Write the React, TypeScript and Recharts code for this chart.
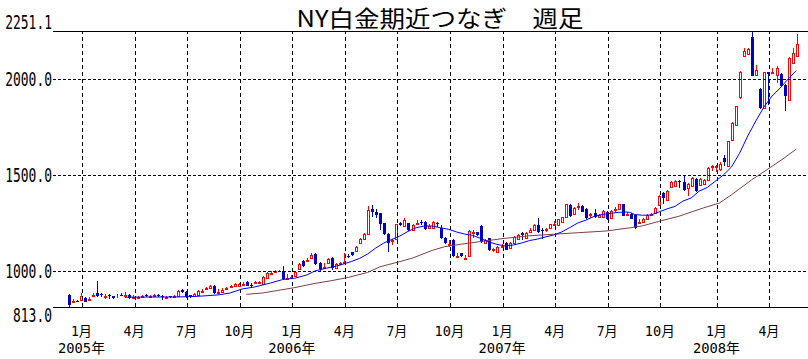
import React from 'react';
import { ComposedChart, Bar, Line, XAxis, YAxis, ReferenceLine } from 'recharts';

// Weekly OHLC (NY platinum, continuous front month), one entry per week
const OPEN = [
  876, 838, 845, 849, 860, 850, 872, 888, 880, 866, 874, 868, 868, 878, 870, 876, 860, 862, 866, 878,
  866, 870, 876, 870, 862, 868, 866, 872, 900, 893, 874, 872, 876, 890, 905, 910, 924, 888, 893, 905,
  915, 922, 922, 930, 944, 930, 936, 940, 931, 966, 985, 996, 998, 1001, 960, 965, 976, 1011, 1053, 1055,
  1067, 1088, 1044, 1015, 1041, 1070, 1018, 1037, 1044, 1080, 1098, 1105, 1145, 1166, 1192, 1324, 1308, 1301, 1249, 1192,
  1158, 1167, 1249, 1237, 1249, 1214, 1248, 1258, 1254, 1226, 1226, 1250, 1226, 1171, 1136, 1162, 1072, 1093, 1063, 1079,
  1200, 1202, 1235, 1148, 1171, 1110, 1101, 1124, 1148, 1122, 1145, 1166, 1197, 1171, 1205, 1214, 1240, 1215, 1212, 1223,
  1242, 1240, 1257, 1280, 1344, 1296, 1335, 1341, 1324, 1290, 1301, 1283, 1283, 1310, 1275, 1316, 1324, 1348, 1294, 1298,
  1291, 1251, 1254, 1273, 1291, 1302, 1346, 1407, 1372, 1437, 1442, 1470, 1464, 1433, 1442, 1481, 1447, 1454, 1476, 1540,
  1540, 1530, 1590, 1549, 1685, 1763, 1905, 2120, 2130, 2218, 2020, 1950, 1850, 2036, 2030, 2022, 2025, 1970, 1893, 2086,
  2122,
];
const HIGH = [
  881, 853, 849, 884, 865, 867, 884, 948, 884, 879, 879, 870, 879, 884, 890, 879, 874, 872, 876, 882,
  878, 882, 880, 873, 872, 872, 878, 902, 905, 896, 878, 884, 902, 905, 919, 926, 926, 906, 910, 919,
  928, 936, 938, 942, 948, 936, 948, 950, 975, 994, 1000, 1006, 1008, 1027, 983, 978, 1000, 1040, 1058, 1067,
  1093, 1092, 1048, 1041, 1070, 1073, 1041, 1049, 1096, 1088, 1102, 1132, 1170, 1196, 1339, 1344, 1322, 1305, 1253, 1196,
  1167, 1248, 1255, 1275, 1252, 1244, 1266, 1266, 1262, 1244, 1262, 1255, 1240, 1176, 1162, 1165, 1093, 1096, 1084, 1213,
  1214, 1205, 1240, 1166, 1175, 1122, 1132, 1140, 1153, 1150, 1184, 1192, 1205, 1204, 1226, 1244, 1275, 1223, 1226, 1248,
  1262, 1274, 1284, 1352, 1348, 1332, 1353, 1346, 1328, 1301, 1324, 1296, 1318, 1314, 1318, 1336, 1352, 1352, 1308, 1302,
  1296, 1273, 1277, 1295, 1303, 1333, 1397, 1412, 1423, 1467, 1476, 1476, 1502, 1458, 1490, 1485, 1485, 1480, 1542, 1551,
  1554, 1567, 1606, 1680, 1776, 1862, 2045, 2162, 2165, 2251.1, 2072, 1955, 2040, 2040, 2058, 2068, 2030, 1975, 2115, 2160,
  2235,
];
const LOW = [
  813, 836, 837, 846, 838, 848, 870, 867, 867, 855, 855, 857, 862, 868, 862, 856, 856, 860, 862, 866,
  862, 866, 864, 849, 855, 860, 862, 868, 885, 862, 860, 868, 872, 886, 902, 906, 880, 884, 890, 900,
  912, 918, 918, 926, 920, 918, 932, 935, 928, 962, 980, 990, 994, 955, 954, 962, 972, 1008, 1022, 1050,
  1062, 1032, 997, 1012, 1037, 1006, 1015, 1032, 1040, 1067, 1078, 1100, 1140, 1162, 1188, 1283, 1275, 1214, 1188, 1098,
  1136, 1162, 1235, 1233, 1210, 1210, 1244, 1240, 1214, 1223, 1222, 1230, 1166, 1140, 1127, 1075, 1068, 1074, 1058, 1075,
  1171, 1184, 1148, 1142, 1105, 1098, 1098, 1119, 1108, 1118, 1140, 1162, 1162, 1166, 1197, 1210, 1200, 1167, 1205, 1219,
  1236, 1236, 1254, 1276, 1283, 1292, 1318, 1306, 1271, 1275, 1275, 1275, 1280, 1266, 1271, 1310, 1320, 1285, 1290, 1270,
  1220, 1247, 1250, 1270, 1288, 1298, 1342, 1350, 1368, 1433, 1438, 1433, 1420, 1390, 1438, 1414, 1442, 1450, 1472, 1523,
  1516, 1523, 1546, 1545, 1680, 1758, 1898, 2115, 2125, 2015, 2018, 1845, 1845, 1865, 2025, 1978, 1960, 1836, 1888, 2080,
  2118,
];
const CLOSE = [
  825, 842, 840, 872, 841, 856, 876, 870, 876, 870, 869, 860, 872, 873, 875, 858, 865, 866, 872, 874,
  872, 876, 868, 864, 866, 864, 870, 898, 893, 866, 864, 880, 898, 896, 910, 922, 884, 893, 903, 910,
  920, 933, 934, 935, 924, 926, 942, 944, 971, 989, 990, 1000, 1003, 959, 965, 970, 997, 1035, 1027, 1060,
  1084, 1035, 1011, 1020, 1062, 1015, 1037, 1043, 1050, 1072, 1082, 1127, 1166, 1192, 1318, 1310, 1291, 1244, 1192, 1145,
  1163, 1244, 1240, 1266, 1214, 1240, 1252, 1252, 1219, 1236, 1257, 1243, 1170, 1145, 1142, 1079, 1078, 1077, 1068, 1209,
  1205, 1188, 1153, 1160, 1110, 1115, 1127, 1129, 1112, 1145, 1179, 1188, 1188, 1200, 1212, 1240, 1205, 1208, 1218, 1244,
  1248, 1270, 1280, 1348, 1287, 1327, 1341, 1310, 1275, 1296, 1280, 1290, 1313, 1270, 1313, 1322, 1348, 1289, 1300, 1273,
  1223, 1257, 1273, 1291, 1297, 1329, 1393, 1381, 1419, 1463, 1471, 1462, 1424, 1454, 1485, 1419, 1481, 1476, 1537, 1546,
  1546, 1560, 1566, 1676, 1772, 1858, 2038, 2145, 2155, 2018, 2050, 1850, 2035, 2025, 2040, 2060, 1963, 1910, 2110, 2135,
  2183,
];

// Moving averages (week index -> value)
const MA_SHORT_WEEK = [
  14, 20, 26, 30, 33, 37, 40, 43, 46, 50, 53, 56, 59, 61, 64, 67, 70, 72, 74, 76,
  78, 80, 82, 84, 86, 88, 90, 92, 94, 96, 98, 100, 102, 104, 106, 108, 110, 112, 114, 116,
  118, 120, 122, 124, 126, 128, 130, 132, 134, 136, 138, 139, 140, 142, 144, 146, 148, 150, 152, 154,
  156, 158, 160, 162, 164, 166, 168, 170, 172, 174, 176, 178, 180,
];
const MA_SHORT_VALUE = [
  864, 865, 865, 867, 870, 876, 886, 907, 917, 938, 956, 963, 980, 1001, 1016, 1030, 1050, 1066, 1089, 1120,
  1146, 1165, 1183, 1207, 1226, 1235, 1235, 1226, 1218, 1204, 1193, 1186, 1170, 1152, 1139, 1131, 1136, 1146, 1159, 1167,
  1178, 1188, 1204, 1227, 1251, 1266, 1285, 1295, 1301, 1306, 1308, 1305, 1295, 1291, 1292, 1308, 1324, 1337, 1365, 1381,
  1417, 1436, 1469, 1501, 1543, 1615, 1704, 1782, 1855, 1912, 1954, 2001, 2045,
];
const MA_LONG_WEEK = [
  44, 48, 52, 56, 61, 65, 69, 74, 77, 81, 85, 90, 93, 97, 103, 108, 114, 120, 126, 133,
  139, 142, 146, 151, 157, 161, 164, 169, 174, 177, 180,
];
const MA_LONG_VALUE = [
  879, 886, 900, 914, 936, 950, 966, 993, 1022, 1044, 1067, 1108, 1127, 1140, 1157, 1171, 1184, 1192, 1200, 1209,
  1226, 1236, 1259, 1286, 1329, 1355, 1398, 1476, 1546, 1589, 1636,
];

// Month boundaries (between weekly candles) and their labels
const MONTH_TICKS = [3.5, 16.5, 29.5, 42.5, 55.5, 68.5, 81.5, 94.5, 107.5, 120.5, 133.5, 146.5, 160.5, 173.5];
const MONTH_LABELS = ['1月', '4月', '7月', '10月', '1月', '4月', '7月', '10月', '1月', '4月', '7月', '10月', '1月', '4月'];
const YEAR_LABELS = ['2005年', '', '', '', '2006年', '', '', '', '2007年', '', '', '', '2008年', ''];

const Y_TICKS = [813, 1000, 1500, 2000, 2251.1];
const Y_LABELS = ['813.0', '1000.0', '1500.0', '2000.0', '2251.1'];
const Y_MIN = 813;
const Y_MAX = 2251.1;
const GRID_PRICES = [1000, 1500, 2000];

const TITLE = 'NY白金期近つなぎ　週足';

const RED = '#ff0000';
const BLUE_CANDLE = '#0000c8';
const BLUE_LINE = '#0000ff';
const BROWN = '#804040';

const candles = OPEN.map((o, i) => ({
  i,
  o,
  h: HIGH[i],
  l: LOW[i],
  c: CLOSE[i],
  range: [LOW[i], HIGH[i]],
}));
const maShort = MA_SHORT_WEEK.map((w, k) => ({ i: w, v: MA_SHORT_VALUE[k] }));
const maLong = MA_LONG_WEEK.map((w, k) => ({ i: w, v: MA_LONG_VALUE[k] }));

const W = 808;
const H = 359;
const PLOT_LEFT = 53;
const PLOT_TOP = 31;
const PLOT_BOTTOM = 307;

const Candle = (props: any) => {
  const { x, y, width, height, payload } = props;
  if (payload == null || x == null || y == null) return null;
  const { o, h, l, c } = payload;
  const top = Math.min(y, y + height);
  const bottom = Math.max(y, y + height);
  const span = h - l;
  const k = span > 0 ? (bottom - top) / span : 0;
  const yOf = (v: number) => top + (h - v) * k;
  const cx = Math.round(x + width / 2);
  const up = c >= o;
  const color = up ? RED : BLUE_CANDLE;
  const bTop = Math.round(yOf(Math.max(o, c)));
  const bBot = Math.round(yOf(Math.min(o, c)));
  return (
    <g>
      <line
        x1={cx + 0.5}
        x2={cx + 0.5}
        y1={Math.round(top)}
        y2={Math.round(bottom)}
        stroke={color}
        strokeWidth={1}
        shapeRendering="crispEdges"
      />
      {up ? (
        <rect
          x={cx - 0.5}
          y={bTop + 0.5}
          width={2}
          height={Math.max(bBot - bTop, 0)}
          fill="#ffffff"
          stroke={color}
          strokeWidth={1}
          shapeRendering="crispEdges"
        />
      ) : (
        <rect
          x={cx - 1}
          y={bTop}
          width={3}
          height={Math.max(bBot - bTop, 1)}
          fill={color}
          shapeRendering="crispEdges"
        />
      )}
    </g>
  );
};

const LABEL_FONT = "'DejaVu Sans Mono', 'Noto Sans CJK JP', monospace";

const XTick = (props: any) => {
  const { x, payload } = props;
  const idx = MONTH_TICKS.indexOf(payload.value);
  if (idx < 0) return null;
  const m = MONTH_LABELS[idx];
  const yr = YEAR_LABELS[idx];
  return (
    <g>
      <text
        x={x - 1}
        y={PLOT_BOTTOM + 29}
        textAnchor="middle"
        fontFamily={LABEL_FONT}
        fontSize={14}
        fill="#000"
        textLength={m.length === 3 ? 30 : 21}
        lengthAdjust="spacingAndGlyphs"
      >
        {m}
      </text>
      {yr ? (
        <text
          x={x - 1}
          y={PLOT_BOTTOM + 46}
          textAnchor="middle"
          fontFamily={LABEL_FONT}
          fontSize={14}
          fill="#000"
          textLength={47}
          lengthAdjust="spacingAndGlyphs"
        >
          {yr}
        </text>
      ) : null}
    </g>
  );
};

const YTick = (props: any) => {
  const { y, payload } = props;
  const idx = Y_TICKS.indexOf(payload.value);
  if (idx < 0) return null;
  const label = Y_LABELS[idx];
  let baseline = y + 7;
  if (payload.value === Y_MAX) baseline = y - 2;
  if (payload.value === Y_MIN) baseline = y + 15;
  return (
    <text
      x={PLOT_LEFT - 1}
      y={baseline}
      textAnchor="end"
      fontFamily="'DejaVu Sans Mono', monospace"
      fontSize={20}
      fill="#000"
      textLength={label.length * 7.8}
      lengthAdjust="spacingAndGlyphs"
    >
      {label}
    </text>
  );
};

export default function App() {
  return (
    <div style={{ position: 'absolute', left: 0, top: 0, width: W, height: H, background: '#ffffff' }}>
      <ComposedChart
        width={W}
        height={H}
        data={candles}
        margin={{ top: PLOT_TOP, right: 0, bottom: 0, left: 0 }}
      >
        <text
          x={440}
          y={27}
          textAnchor="middle"
          fontFamily="'Noto Sans CJK JP', sans-serif"
          fontSize={23}
          fill="#000"
          textLength={287}
          lengthAdjust="spacingAndGlyphs"
        >
          {TITLE}
        </text>
        <XAxis
          dataKey="i"
          type="number"
          domain={[-3.78, 182.9]}
          allowDataOverflow
          ticks={MONTH_TICKS}
          interval={0}
          axisLine={false}
          tickLine={false}
          height={H - PLOT_BOTTOM}
          tick={<XTick />}
        />
        <YAxis
          type="number"
          domain={[Y_MIN, Y_MAX]}
          allowDataOverflow
          ticks={Y_TICKS}
          interval={0}
          axisLine={false}
          tickLine={false}
          width={PLOT_LEFT}
          tick={<YTick />}
        />
        {MONTH_TICKS.map((t) => (
          <ReferenceLine
            key={'v' + t}
            x={t}
            stroke="#000"
            strokeWidth={1}
            strokeDasharray="4 3"
            shapeRendering="crispEdges"
          />
        ))}
        {GRID_PRICES.map((p) => (
          <ReferenceLine
            key={'h' + p}
            y={p}
            stroke="#000"
            strokeWidth={1}
            strokeDasharray="3 2"
            shapeRendering="crispEdges"
          />
        ))}
        <ReferenceLine y={Y_MAX} stroke="#000" strokeWidth={1} shapeRendering="crispEdges" />
        <ReferenceLine y={Y_MIN} stroke="#000" strokeWidth={1} shapeRendering="crispEdges" />
        <Line
          data={maLong}
          dataKey="v"
          type="linear"
          stroke={BROWN}
          strokeWidth={1}
          dot={false}
          activeDot={false}
          isAnimationActive={false}
        />
        <Line
          data={maShort}
          dataKey="v"
          type="linear"
          stroke={BLUE_LINE}
          strokeWidth={1}
          dot={false}
          activeDot={false}
          isAnimationActive={false}
        />
        <Bar
          dataKey="range"
          barSize={3}
          shape={(p: any) => <Candle {...p} />}
          isAnimationActive={false}
        />
      </ComposedChart>
    </div>
  );
}
